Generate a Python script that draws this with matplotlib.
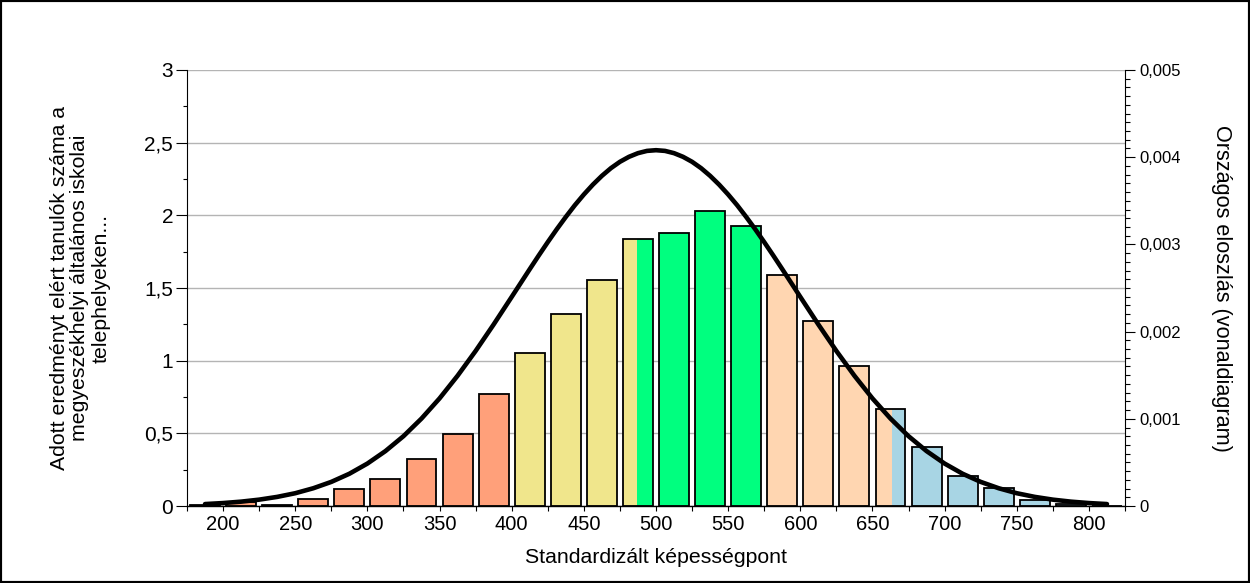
import matplotlib
matplotlib.use("Agg")
import matplotlib.pyplot as plt
from matplotlib.ticker import MultipleLocator, FuncFormatter
from matplotlib.patches import Rectangle

plt.rcParams['font.family'] = ['Liberation Sans', 'DejaVu Sans']

# bins of 25 points, centres
bin_centers = [187.5, 212.5, 237.5, 262.5, 287.5, 312.5, 337.5, 362.5, 387.5,
               412.5, 437.5, 462.5, 487.5, 512.5, 537.5, 562.5, 587.5, 612.5,
               637.5, 662.5, 687.5, 712.5, 737.5, 762.5, 787.5, 812.5]
counts = [0.004, 0.025, 0.006, 0.046, 0.117, 0.186, 0.322, 0.497, 0.770,
          1.053, 1.322, 1.556, 1.839, 1.881, 2.032, 1.929, 1.591, 1.276,
          0.966, 0.667, 0.405, 0.205, 0.122, 0.039, 0.014, 0.003]

# level boundaries and colours
level_cuts = [400, 486.5, 575, 663.5]
level_colors = ['#FFA07A', '#F0E68C', '#00FF7F', '#FFD6B1', '#A8D5E4']

# national distribution (line)
curve_x = [187.5, 200, 212.5, 225, 237.5, 250, 262.5, 275, 287.5, 300, 312.5,
           325, 337.5, 350, 362.5, 375, 387.5, 400, 406.25, 412.5, 418.75,
           425, 431.25, 437.5, 443.75, 450, 456.25, 462.5, 468.75, 475,
           481.25, 487.5, 493.75, 500, 506.25, 512.5, 518.75, 525, 531.25,
           537.5, 543.75, 550, 556.25, 562.5, 568.75, 575, 581.25, 587.5,
           593.75, 600, 612.5, 625, 637.5, 650, 662.5, 675, 687.5, 700, 712.5,
           725, 737.5, 750, 762.5, 775, 787.5, 800, 812.5]
curve_y = [0.0000227, 0.0000342, 0.0000505, 0.0000734, 0.000105, 0.000147,
           0.000204, 0.000277, 0.000370, 0.000487, 0.000630, 0.000801,
           0.001003, 0.001234, 0.001494, 0.001778, 0.002082, 0.002398,
           0.002557, 0.002716, 0.002873, 0.003026, 0.003174, 0.003315,
           0.003449, 0.003572, 0.003685, 0.003786, 0.003874, 0.003947,
           0.004004, 0.004046, 0.004072, 0.004080, 0.004072, 0.004046,
           0.004004, 0.003947, 0.003874, 0.003786, 0.003685, 0.003572,
           0.003449, 0.003315, 0.003174, 0.003026, 0.002873, 0.002716,
           0.002557, 0.002398, 0.002082, 0.001778, 0.001494, 0.001234,
           0.001003, 0.000801, 0.000630, 0.000487, 0.000370, 0.000277,
           0.000204, 0.000147, 0.000105, 0.0000734, 0.0000505, 0.0000342,
           0.0000227]

x_ticks = [200, 250, 300, 350, 400, 450, 500, 550, 600, 650, 700, 750, 800]

bar_w = 20.7


def level_of(x):
    k = 0
    for c in level_cuts:
        if x >= c:
            k += 1
    return k


def comma(v, pos):
    s = ('%g' % round(v, 6)).replace('.', ',')
    return s


fig = plt.figure(figsize=(12.5, 5.83), dpi=100)
ax = fig.add_axes([0.1496, 0.132, 0.7504, 0.748])

for xc, h in zip(bin_centers, counts):
    left = xc - bar_w / 2
    right = xc + bar_w / 2
    ax.bar(xc, h, width=bar_w, color=level_colors[level_of(left)], linewidth=0, zorder=2)
    # bar split by a level boundary
    for c in level_cuts:
        if left < c < right:
            ax.bar(c, h, width=right - c, align='edge', color=level_colors[level_of(c)],
                   linewidth=0, zorder=2)
    ax.bar(xc, h, width=bar_w, fill=False, edgecolor='black', linewidth=1.3, zorder=3)

ax.set_xlim(175, 825)
ax.set_ylim(0, 3)
ax.set_xticks(x_ticks)
ax.xaxis.set_minor_locator(MultipleLocator(25))
ax.yaxis.set_major_locator(MultipleLocator(0.5))
ax.yaxis.set_minor_locator(MultipleLocator(0.25))
ax.yaxis.set_major_formatter(FuncFormatter(comma))
ax.grid(axis='y', color='#b4b4b4', linewidth=1, zorder=0)
ax.set_axisbelow(True)
for s in ['top', 'right']:
    ax.spines[s].set_visible(False)
ax.spines['left'].set_linewidth(0.8)
ax.spines['bottom'].set_linewidth(1.0)
ax.tick_params(axis='y', which='major', length=8, width=0.8, pad=2, labelsize=15)
ax.tick_params(axis='y', which='minor', length=3, width=0.8)
ax.tick_params(axis='x', which='both', length=3.5, width=0.8, pad=3, labelsize=14.5)

ax2 = ax.twinx()
ax2.plot(curve_x, curve_y, color='black', linewidth=3.3, solid_capstyle='round',
         solid_joinstyle='round', zorder=5)
ax2.set_ylim(0, 0.005)
ax2.yaxis.set_major_locator(MultipleLocator(0.001))
ax2.yaxis.set_minor_locator(MultipleLocator(0.0001))
ax2.yaxis.set_major_formatter(FuncFormatter(comma))
for s in ['top', 'left', 'bottom']:
    ax2.spines[s].set_visible(False)
ax2.spines['right'].set_linewidth(0.8)
ax2.tick_params(axis='y', which='major', length=7, width=0.8, pad=3.5, labelsize=12)
ax2.tick_params(axis='y', which='minor', length=3.5, width=0.8)

fig.text(0.064, 0.506,
         'Adott eredményt elért tanulók száma a\nmegyeszékhelyi általános iskolai\ntelephelyeken...',
         rotation=90, ha='center', va='center', multialignment='center', fontsize=15.3,
         linespacing=1.12)
fig.text(0.977, 0.506, 'Országos eloszlás (vonaldiagram)', rotation=270,
         ha='center', va='center', fontsize=15.6)
fig.text(0.5248, 0.043, 'Standardizált képességpont', ha='center', va='center', fontsize=15.3)

# black frame round the picture
fig.patches.append(Rectangle((0, 0), 1, 1, transform=fig.transFigure, fill=False,
                             edgecolor='black', linewidth=3))

fig.savefig('out.png', dpi=100)
